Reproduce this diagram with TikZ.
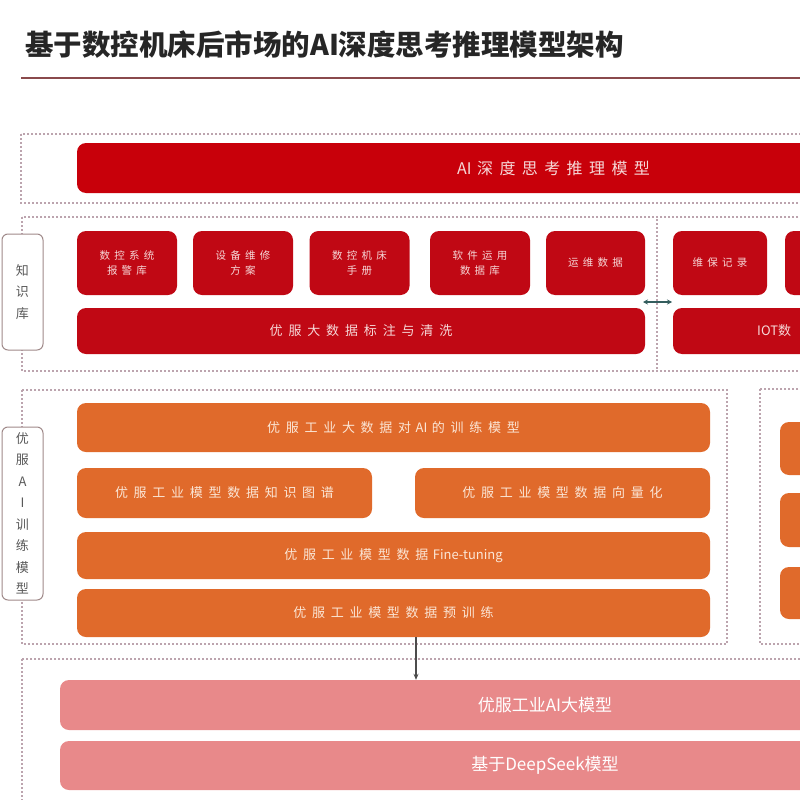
\documentclass[tikz,border=0pt]{standalone}
\usepackage{fontspec}
\setmainfont{Noto Sans CJK SC}
\usetikzlibrary{arrows.meta}
\definecolor{cred}{HTML}{C8000A}
\definecolor{ckb}{HTML}{C00814}
\definecolor{corange}{HTML}{E06A2B}
\definecolor{cpink}{HTML}{E8898A}
\definecolor{cdash}{HTML}{BCA4AE}
\definecolor{cline}{HTML}{8A4A4C}
\definecolor{clab}{HTML}{A08A8A}
\definecolor{tred}{HTML}{F6D8D8}
\definecolor{torange}{HTML}{FBE6D6}
\newcommand\latn[1]{{\addfontfeatures{LetterSpace=0}#1}\hspace{0.35em}}
\newcommand\prelatn[1]{\hspace{0.35em}{\addfontfeatures{LetterSpace=0}#1}}
\begin{document}
\begin{tikzpicture}[x=1pt,y=-1pt,
  box/.style={rounded corners=9pt, inner sep=0pt, align=center},
  topband/.style={box, fill=cred, text=tred, font=\fontsize{16}{18}\selectfont\addfontfeatures{LetterSpace=40}},
  kbbox/.style={box, fill=ckb, text=tred, minimum width=100pt, minimum height=64pt, font=\fontsize{10.5}{15}\selectfont\addfontfeatures{LetterSpace=40}},
  kbband/.style={box, fill=ckb, text=tred, minimum height=46pt, font=\fontsize{13}{15}\selectfont\addfontfeatures{LetterSpace=45}},
  orband/.style={box, fill=corange, text=torange, font=\fontsize{13}{15}\selectfont\addfontfeatures{LetterSpace=44}},
  pkband/.style={box, fill=cpink, text=white, font=\fontsize{17}{19}\selectfont},
  frame/.style={draw=cdash, line width=1.2pt, dash pattern=on 2pt off 2pt},
  lab/.style={draw=clab, line width=1pt, fill=white, rounded corners=6pt, inner sep=0pt, minimum width=41pt, align=center, text=black!65, font=\fontsize{13}{21.5}\selectfont},
  darr/.style={draw=black!70, line width=1.5pt, -{Stealth[length=6pt,width=5pt]}},
  harr/.style={draw=black!45!teal!60!gray, line width=1.2pt, {Stealth[length=5pt,width=5pt]}-{Stealth[length=5pt,width=5pt]}}
]
\useasboundingbox (0,0) rectangle (800,800);
\clip (0,0) rectangle (800,800);
\fill[white] (0,0) rectangle (800,800);

% title
\node[anchor=west, inner sep=0pt, font=\fontsize{28.5}{30}\selectfont\bfseries, text=black!85] (title) at (25,45) {基于数控机床后市场的AI深度思考推理模型架构};
\coordinate (ul1) at (21,78);
\coordinate (ul2) at (800,78);
\draw[cline, line width=2pt] (ul1) -- (ul2);

% frames
\draw[frame] (21,134) rectangle (900,203);
\draw[frame] (22,217) rectangle (900,371);
\draw[frame] (657,219) -- (657,369);
\draw[frame] (22,390) rectangle (727,644);
\draw[frame] (760,389) rectangle (900,644);
\draw[frame] (22,659) rectangle (900,812);

% top band
\node[topband, minimum width=953pt, minimum height=50pt] (aim) at (553.5,168) {\latn{AI}深度思考推理模型};

% knowledge base
\node[lab, minimum height=116pt] (kblab) at (22.5,292) {知\\识\\库};
\node[kbbox] (kb1) at (127,263) {数控系统\\报警库};
\node[kbbox] (kb2) at (243,263) {设备维修\\方案};
\node[kbbox] (kb3) at (359.5,263) {数控机床\\手册};
\node[kbbox] (kb4) at (480,263) {软件运用\\数据库};
\node[kbbox, minimum width=99pt] (kb5) at (595.5,263) {运维数据};
\node[kbbox, minimum width=94pt] (kb6) at (720,263) {维保记录};
\node[kbbox] (kb7) at (835,263) {};
\node[kbband, minimum width=568pt] (clean) at (361,331) {优服大数据标注与清洗};
\node[kbband, minimum width=427pt] (iot) at (886.5,331) {};
\node[anchor=west, inner sep=0pt, text=tred, font=\fontsize{13}{15}\selectfont] (iottxt) at (757,331) {IOT数};
\coordinate (da1) at (643,302);
\coordinate (da2) at (672,302);
\draw[harr] (da1) -- (da2);

% training
\node[lab, minimum height=173pt] (trlab) at (22.5,513.5) {优\\服\\A\\I\\训\\练\\模\\型};
\node[orband, minimum width=633pt, minimum height=49pt] (train) at (393.5,427.5) {优服工业大数据对\prelatn{AI}\hspace{0.35em}的训练模型};
\node[orband, minimum width=295pt, minimum height=50pt] (kg) at (224.5,493) {优服工业模型数据知识图谱};
\node[orband, minimum width=295pt, minimum height=50pt] (vec) at (562.5,493) {优服工业模型数据向量化};
\node[orband, minimum width=633pt, minimum height=47pt] (ft) at (393.5,555.5) {优服工业模型数据\prelatn{Fine-tuning}};
\node[orband, minimum width=633pt, minimum height=48pt] (pre) at (393.5,613) {优服工业模型数据预训练};
\node[orband, minimum width=120pt, minimum height=53pt] (r1) at (840,448.5) {};
\node[orband, minimum width=120pt, minimum height=54pt] (r2) at (840,520) {};
\node[orband, minimum width=120pt, minimum height=52pt] (r3) at (840,593) {};

% base model
\node[pkband, minimum width=970pt, minimum height=50pt] (big) at (545,705) {优服工业AI大模型};
\node[pkband, minimum width=970pt, minimum height=49pt] (deep) at (545,765.5) {基于DeepSeek模型};
\coordinate (ax) at (416,0);
\draw[darr] (pre.south -| ax) -- (big.north -| ax);
\end{tikzpicture}
\end{document}
